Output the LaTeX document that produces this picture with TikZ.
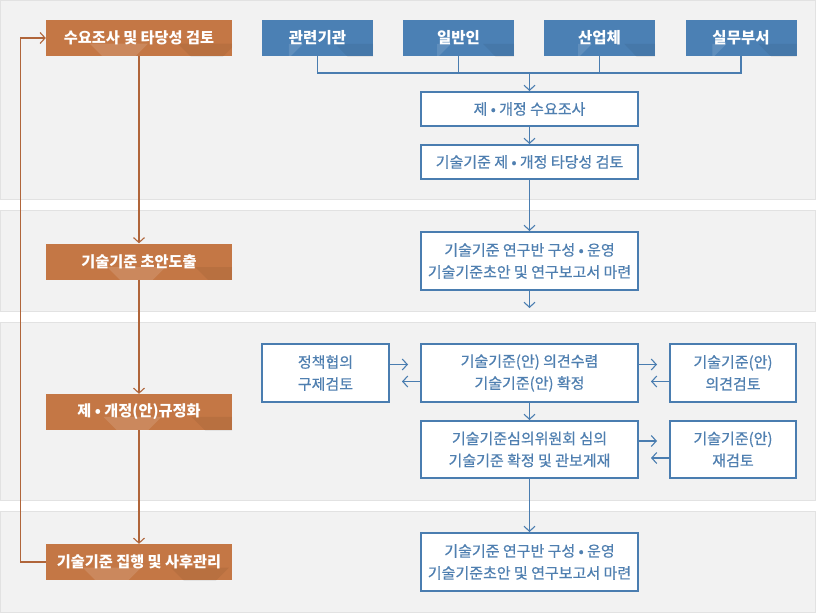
\documentclass[tikz,border=0pt]{standalone}
\usepackage{fontspec}
\setmainfont{Noto Sans CJK KR}
\newfontfamily\medkr{Noto Sans CJK KR}[FakeBold=0.6]
\usetikzlibrary{arrows.meta,calc}
\definecolor{bandfill}{HTML}{F2F2F2}
\definecolor{bandline}{HTML}{E2E2E2}
\definecolor{org}{HTML}{C47745}
\definecolor{orgline}{HTML}{B0653A}
\definecolor{blu}{HTML}{4B80B4}
\definecolor{bluline}{HTML}{4A7DB0}
\definecolor{blutext}{HTML}{4F7FB0}
\tikzset{
  band/.style={fill=bandfill,draw=bandline,line width=1pt},
  obox/.style={fill=org, minimum width=186pt, minimum height=36pt, inner sep=0pt,
    text=white, font=\bfseries\fontsize{15.2}{17}\selectfont,
    path picture={
      \begin{scope}[shift={(path picture bounding box.north west)}]
        \fill[white,fill opacity=0.13] (26,0) -- (84,0) -- (55,29) -- cycle;
        \fill[black,fill opacity=0.06] (44,36) -- (66,36) -- (55,25) -- cycle;
        \fill[black,fill opacity=0.06] (114,0) -- (172,0) -- (143,29) -- cycle;
        \fill[white,fill opacity=0.13] (131,36) -- (155,36) -- (143,24) -- cycle;
      \end{scope}}},
  bbox/.style={fill=blu, minimum width=111pt, minimum height=36pt, inner sep=0pt,
    text=white, font=\bfseries\fontsize{15.5}{17}\selectfont,
    path picture={
      \begin{scope}[shift={(path picture bounding box.north west)}]
        \fill[white,fill opacity=0.12] (0,0) -- (14,0) -- (0,14) -- cycle;
        \fill[black,fill opacity=0.06] (46,0) -- (107,0) -- (76,31) -- cycle;
        \fill[white,fill opacity=0.10] (64,36) -- (88,36) -- (76,24) -- cycle;
      \end{scope}}},
  wbox/.style={fill=white, draw=bluline, line width=2pt, inner sep=0pt,
    text=blutext, align=center, font=\medkr\fontsize{15}{22}\selectfont},
  arr/.style={-{Straight Barb[length=5pt,width=11pt]}},
  bline/.style={draw=bluline, line width=1.1pt},
  oline/.style={draw=orgline, line width=1.1pt},
}
\begin{document}
\begin{tikzpicture}[x=1pt,y=-1pt]
\useasboundingbox (0,0) rectangle (816,613);
% bands
\draw[band] (0.5,0.5) rectangle (815.5,199.5);
\draw[band] (0.5,210.5) rectangle (815.5,311);
\draw[band] (0.5,322) rectangle (815.5,500);
\draw[band] (0.5,511) rectangle (815.5,612.5);
% orange boxes
\node[obox] (o1) at (139,38) {수요조사 및 타당성 검토};
\node[obox] (o2) at (139,261.5) {기술기준 초안도출};
\node[obox] (o3) at (139,412) {제 • 개정(안)규정화};
\node[obox] (o4) at (139,562) {기술기준 집행 및 사후관리};
% blue boxes
\node[bbox] (b1) at (317.5,38) {관련기관};
\node[bbox] (b2) at (458.5,38) {일반인};
\node[bbox] (b3) at (599.5,38) {산업체};
\node[bbox] (b4) at (741,38) {실무부서};
% white boxes
\node[wbox, minimum width=217pt, minimum height=34pt] (w1) at (529.5,109) {제 • 개정 수요조사};
\node[wbox, minimum width=217pt, minimum height=34pt] (w2) at (529.5,162) {기술기준 제 • 개정 타당성 검토};
\node[wbox, minimum width=217pt, minimum height=58pt] (w3) at (529.5,261) {기술기준 연구반 구성 • 운영\\기술기준초안 및 연구보고서 마련};
\node[wbox, minimum width=217pt, minimum height=58pt] (w4) at (529.5,373) {기술기준(안) 의견수렴\\기술기준(안) 확정};
\node[wbox, minimum width=217pt, minimum height=57pt] (w5) at (529.5,449.5) {기술기준심의위원회 심의\\기술기준 확정 및 관보게재};
\node[wbox, minimum width=217pt, minimum height=58pt] (w6) at (529.5,562) {기술기준 연구반 구성 • 운영\\기술기준초안 및 연구보고서 마련};
\node[wbox, minimum width=127pt, minimum height=58pt] (p1) at (325.5,373) {정책협의\\구제검토};
\node[wbox, minimum width=126pt, minimum height=58pt] (r1) at (733,373) {기술기준(안)\\의견검토};
\node[wbox, minimum width=126pt, minimum height=57pt] (r2) at (733,449.5) {기술기준(안)\\재검토};
% orange connectors
\draw[oline,arr] (o1.south) -- (o2.north);
\draw[oline,arr] (o2.south) -- (o3.north);
\draw[oline,arr] (o3.south) -- (o4.north);
\draw[oline,arr] (o4.west) -- ++(-25,0) |- (o1.west);
% blue connectors
\coordinate (j) at (529.5,73);
\draw[bline] (b1.south) |- (j) -| (b4.south);
\draw[bline] (b2.south) -- (b2.south |- j);
\draw[bline] (b3.south) -- (b3.south |- j);
\draw[bline,arr] (j) -- (w1.north);
\draw[bline,arr] (w1.south) -- (w2.north);
\draw[bline,arr] (w2.south) -- (w3.north);
\coordinate (e3) at ($(w3.south)+(0,17)$);
\draw[bline,arr] (w3.south) -- (e3);
\draw[bline,arr] (w4.south) -- (w5.north);
\draw[bline,arr] (w5.south) -- (w6.north);
% side arrows
\draw[bline,arr,shorten >=12pt] ($(p1.east)+(0,-8.5)$) -- ($(w4.west)+(0,-8.5)$);
\draw[bline,arr,shorten >=12pt] ($(w4.west)+(0,8.5)$) -- ($(p1.east)+(0,8.5)$);
\draw[bline,arr,shorten >=12pt] ($(w4.east)+(0,-8.5)$) -- ($(r1.west)+(0,-8.5)$);
\draw[bline,arr,shorten >=12pt] ($(r1.west)+(0,8.5)$) -- ($(w4.east)+(0,8.5)$);
\draw[bline,arr,shorten >=12pt] ($(w5.east)+(0,-8.5)$) -- ($(r2.west)+(0,-8.5)$);
\draw[bline,arr,shorten >=12pt] ($(r2.west)+(0,8.5)$) -- ($(w5.east)+(0,8.5)$);
\end{tikzpicture}
\end{document}
